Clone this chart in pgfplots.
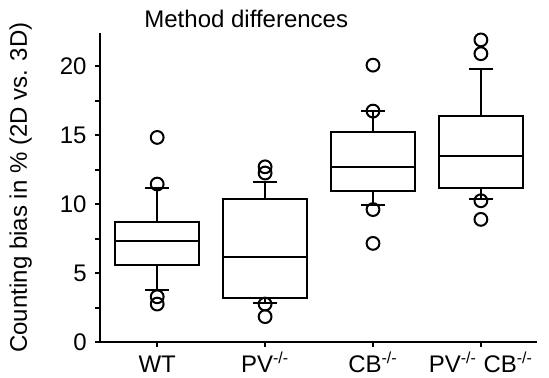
\documentclass[border=0pt]{standalone}
\usepackage{fontspec}
\setmainfont{Liberation Sans}
\usepackage{pgfplots}
\pgfplotsset{compat=1.18}
\usepgfplotslibrary{statistics}
\begin{document}
\fontsize{12}{14}\selectfont
\begin{tikzpicture}
\useasboundingbox (-50pt,-17.5pt) rectangle (224.5pt,171pt);
\begin{axis}[
  at={(0pt,0pt)}, anchor=south west,
  scale only axis, width=218.5pt, height=154.5pt,
  xmin=0.47, xmax=4.52, ymin=0, ymax=22.4,
  axis x line*=bottom, axis y line*=left,
  axis line style={line width=1pt, -, black},
  tick style={line width=1pt, black},
  tick align=outside,
  major tick length=2.5pt, minor tick length=2.5pt,
  xtick={1,2,3,4},
  xticklabels={WT, PV\textsuperscript{-/-}, CB\textsuperscript{-/-}, PV\textsuperscript{-/-} CB\textsuperscript{-/-}},
  xticklabel style={anchor=base, yshift=-12.5pt},
  ytick={0,5,10,15,20},
  minor ytick={2.5,7.5,12.5,17.5},
  /pgf/number format/assume math mode=true,
  ticklabel style={font=\fontsize{12}{14}\selectfont},
  clip=false,
  mybox/.style={solid, draw=black, fill=none, line width=1pt, mark=o, mark size=3.2pt,
    mark options={line width=1pt, solid, draw=black, fill=none}},
]
\addplot+[mybox, boxplot prepared={draw direction=y, draw position=1, box extend=0.78, whisker extend=0.22,
  median=7.32, upper quartile=8.72, lower quartile=5.56, upper whisker=11.14, lower whisker=3.79}]
  coordinates {(0,14.83) (0,11.45) (0,3.28) (0,2.75)};
\addplot+[mybox, boxplot prepared={draw direction=y, draw position=2, box extend=0.78, whisker extend=0.22,
  median=6.16, upper quartile=10.34, lower quartile=3.19, upper whisker=11.62, lower whisker=2.8}]
  coordinates {(0,12.7) (0,12.25) (0,2.75) (0,1.84)};
\addplot+[mybox, boxplot prepared={draw direction=y, draw position=3, box extend=0.78, whisker extend=0.22,
  median=12.66, upper quartile=15.19, lower quartile=10.97, upper whisker=16.74, lower whisker=9.93}]
  coordinates {(0,20.07) (0,16.74) (0,9.6) (0,7.15)};
\addplot+[mybox, boxplot prepared={draw direction=y, draw position=4, box extend=0.78, whisker extend=0.22,
  median=13.5, upper quartile=16.38, lower quartile=11.14, upper whisker=19.76, lower whisker=10.34}]
  coordinates {(0,21.9) (0,20.9) (0,10.24) (0,8.89)};
\end{axis}
\node[anchor=base west, inner sep=0pt] at (22pt,157.5pt) {Method differences};
\node[rotate=90, anchor=base, inner sep=0pt] at (-36.5pt,77.25pt) {Counting bias in \% (2D vs. 3D)};
\end{tikzpicture}
\end{document}
